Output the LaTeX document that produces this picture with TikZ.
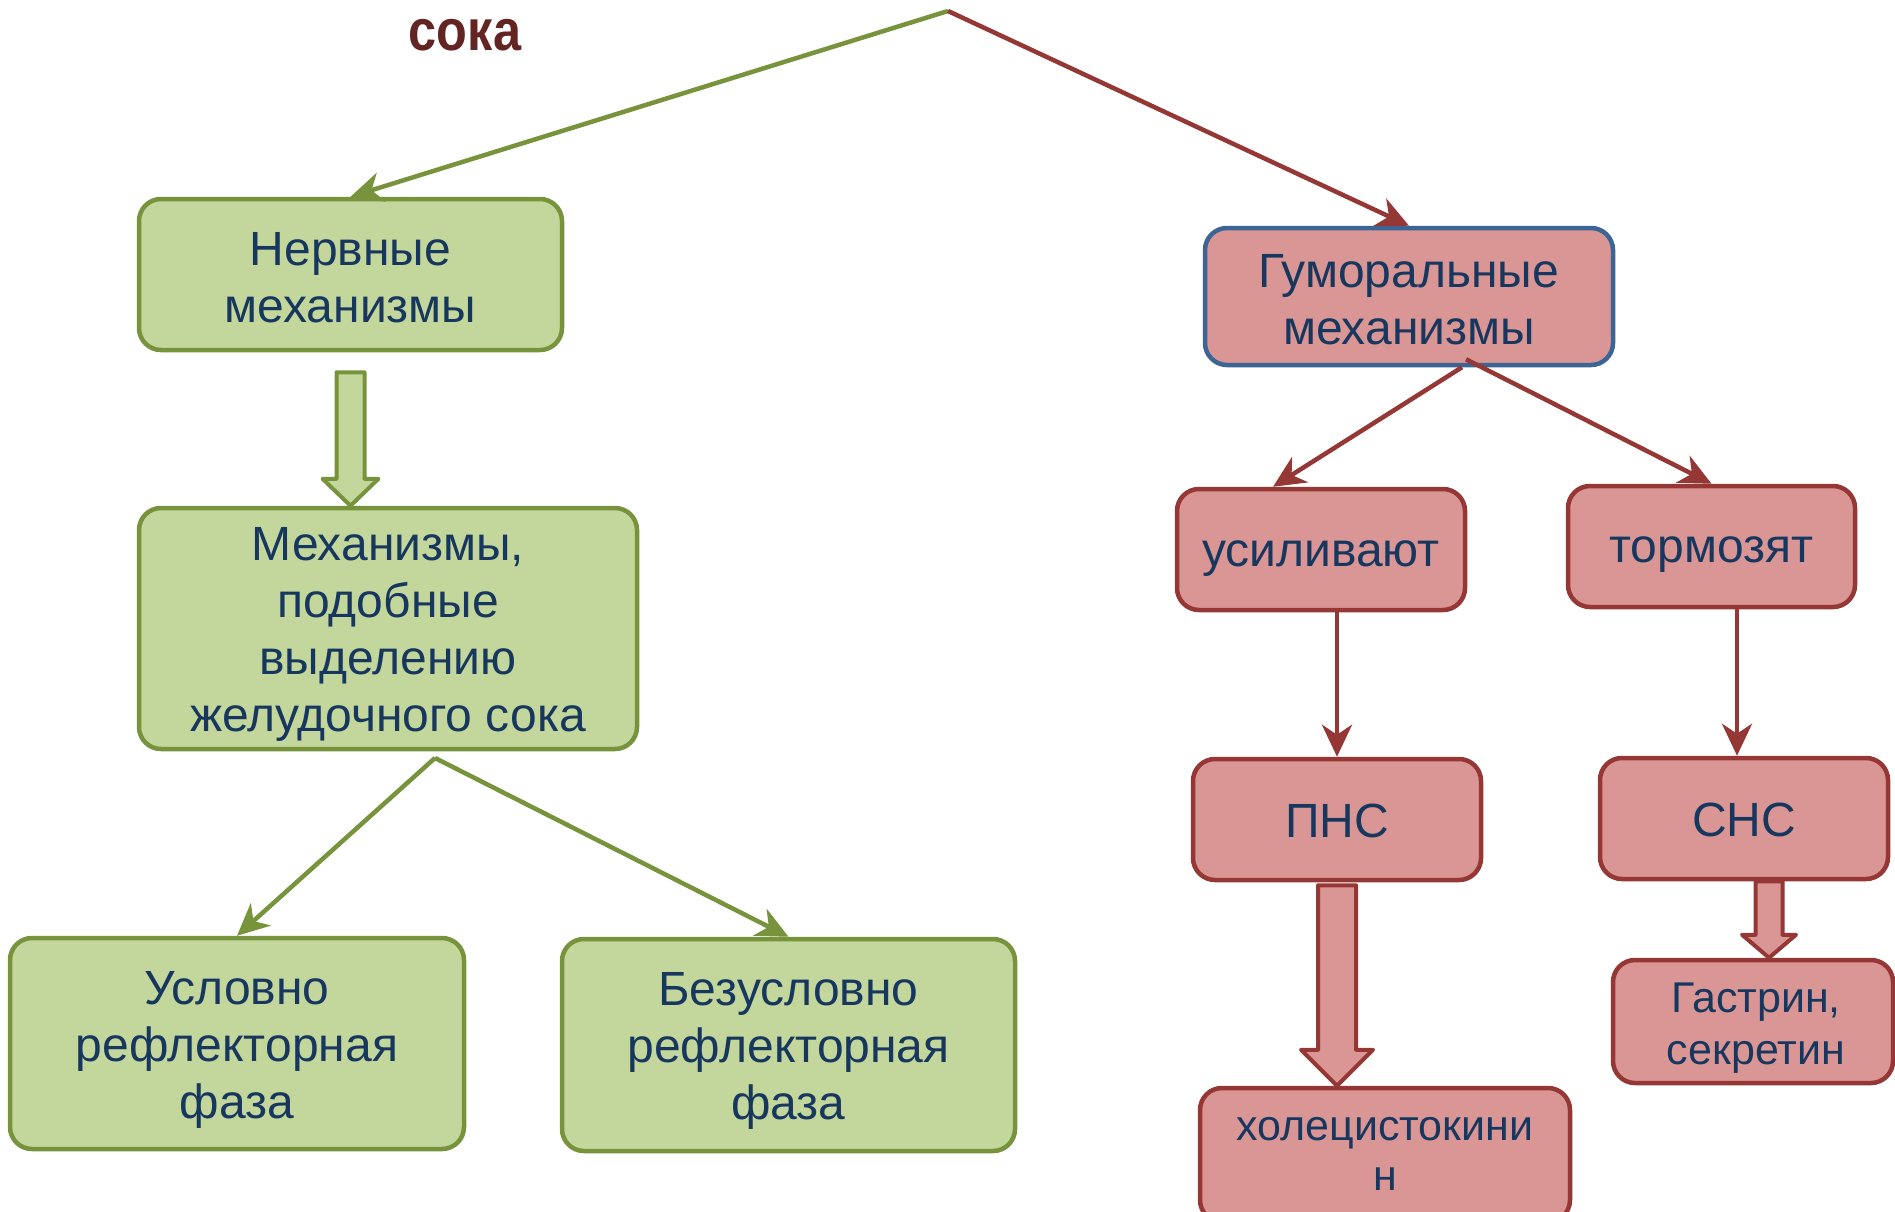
\documentclass[tikz,border=0pt]{standalone}
\usepackage{graphicx}
\usepackage{fontspec}
\setmainfont{Liberation Sans}
\usetikzlibrary{arrows.meta,calc}
\definecolor{gfill}{HTML}{C3D69B}
\definecolor{gline}{HTML}{77933C}
\definecolor{rfill}{HTML}{D99694}
\definecolor{rline}{HTML}{953735}
\definecolor{bline}{HTML}{3C6494}
\definecolor{navy}{HTML}{17375E}
\definecolor{ttlcol}{HTML}{632523}
\newcommand\blockarrow[7]{%
  \path[#1] let \p1=(#2), \p2=(#3) in
    (\x1-#4,\y1-#7) -- (\x1+#4,\y1-#7) -- (\x1+#4,\y2+#6) -- (\x1+#5,\y2+#6)
    -- (\x1,\y2) -- (\x1-#5,\y2+#6) -- (\x1-#4,\y2+#6) -- cycle;}
\begin{document}
\begin{tikzpicture}[x=1pt,y=-1pt,
  box/.style={draw, line width=4.5pt, rounded corners=22pt, inner sep=0pt},
  gbox/.style={box, draw=gline, fill=gfill},
  rbox/.style={box, draw=rline, fill=rfill},
  txt/.style={align=center, text=navy, inner sep=0pt, font=\fontsize{48}{57}\selectfont},
  tip/.style={-{Stealth[length=32pt,width=30pt,inset=10pt]}},
  garrow/.style={draw=gline, line width=4.5pt, tip},
  rarrow/.style={draw=rline, line width=4.5pt, tip},
  gblock/.style={draw=gline, fill=gfill, line width=4pt, line join=round},
  rblock/.style={draw=rline, fill=rfill, line width=4pt, line join=round}]
\fill[white] (0,0) rectangle (1895,1212);
\useasboundingbox (0,0) rectangle (1895,1212);

\node[anchor=base, text=ttlcol, font=\fontsize{58}{60}\bfseries\selectfont, inner sep=0pt] (ttl) at (465,51) {\scalebox{0.87}[1]{сока}};

% boxes
\node[gbox, minimum width=423pt, minimum height=151pt] (nerv) at (350.5,274.5) {};
\node[gbox, minimum width=498pt, minimum height=241pt] (mech) at (388,628.5) {};
\node[gbox, minimum width=454pt, minimum height=211pt] (usl) at (237,1043.5) {};
\node[gbox, minimum width=453pt, minimum height=212pt] (bez) at (788.5,1045) {};
\node[rbox, draw=bline, minimum width=408pt, minimum height=137pt] (gum) at (1409,296.5) {};
\node[rbox, minimum width=288pt, minimum height=121pt] (usil) at (1321,549.5) {};
\node[rbox, minimum width=287pt, minimum height=121pt] (torm) at (1711.5,546.5) {};
\node[rbox, minimum width=288pt, minimum height=121pt] (pns) at (1337,819.5) {};
\node[rbox, minimum width=288pt, minimum height=121pt] (sns) at (1744,818.5) {};
\node[rbox, minimum width=280pt, minimum height=123pt] (gastr) at (1753,1021.5) {};
\node[rbox, minimum width=370pt, minimum height=134pt] (hol) at (1385,1155) {};

% texts
\node[txt] (nerv-t) at ($(nerv)+(0,3)$) {Нервные\\механизмы};
\node[txt] (mech-t) at ($(mech)+(0,6)$) {Механизмы,\\подобные\\выделению\\желудочного сока};
\node[txt] (usl-t) at ($(usl)+(0,6)$) {Условно\\рефлекторная\\фаза};
\node[txt] (bez-t) at ($(bez)+(0,6)$) {Безусловно\\рефлекторная\\фаза};
\node[txt] (gum-t) at ($(gum)+(0,3)$) {Гуморальные\\механизмы};
\node[txt] (usil-t) at ($(usil)+(0,9)$) {усиливают};
\node[txt] (torm-t) at ($(torm)+(0,8)$) {тормозят};
\node[txt] (pns-t) at ($(pns)+(0,1)$) {ПНС};
\node[txt] (sns-t) at ($(sns)+(0,1)$) {СНС};
\node[txt, font=\fontsize{43}{52}\selectfont] (gastr-t) at ($(gastr)+(3,7)$) {Гастрин,\\секретин};
\node[txt, font=\fontsize{43}{50}\selectfont] (hol-t) at ($(hol)+(0,-1)$) {холецистокини\\н};

% connectors
\coordinate (apex) at (948,11);
\draw[garrow] (apex) -- (nerv.north);
\draw[rarrow] (apex) -- (gum.north);

\coordinate (mout) at (435,758);
\draw[garrow] (mout) -- (usl.north);
\draw[garrow] (mout) -- (bez.north);

\draw[rarrow] ([xshift=53pt]gum.south) -- ([xshift=-48pt]usil.north);
\draw[rarrow] ([xshift=57pt,yshift=8pt]gum.south) -- (torm.north);
\draw[rarrow] (usil.south -| pns.north) -- (pns.north);
\draw[rarrow] ([xshift=-7pt]sns.north |- torm.south) -- ([xshift=-7pt]sns.north);

\blockarrow{gblock}{nerv.south}{mech.north}{14pt}{28pt}{27pt}{20pt}
\blockarrow{rblock}{pns.south}{hol.north}{19pt}{36pt}{36pt}{3pt}
\blockarrow{rblock}{[xshift=25pt]sns.south}{gastr.north}{13.5pt}{27pt}{23pt}{0pt}
\end{tikzpicture}
\end{document}
